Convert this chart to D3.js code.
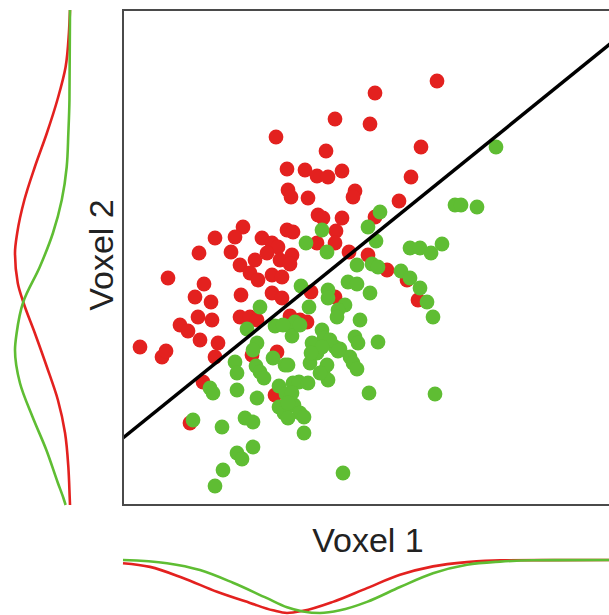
<!DOCTYPE html>
<html>
<head>
<meta charset="utf-8">
<script src="https://cdn.jsdelivr.net/npm/d3@7"></script>
<style>
  body { margin: 0; background: #fff; }
</style>
</head>
<body>
<div id="chart"></div>
<script>
// class A (red) points, [voxel1, voxel2]
let redPoints = [
  [62.8, 84.8], [50.4, 82.4], [42.4, 77.2], [49.4, 76.2], [30.6, 73.6],
  [40.6, 70.8], [59.6, 71.6], [32.8, 67.2], [36.4, 67.0], [38.8, 65.8],
  [41.0, 65.6], [43.8, 66.8], [57.6, 65.6], [33.0, 63.0], [33.6, 61.6],
  [37.0, 61.4], [46.4, 62.8], [46.0, 61.6], [55.2, 60.8], [39.0, 58.0],
  [40.0, 57.4], [43.8, 57.4], [50.4, 57.6], [24.0, 55.6], [18.4, 53.4],
  [22.4, 53.6], [27.8, 53.4], [29.8, 52.4], [31.0, 51.6], [32.8, 55.0],
  [34.0, 54.6], [15.2, 50.4], [21.6, 50.6], [23.4, 48.0], [26.4, 49.0],
  [25.4, 46.4], [27.0, 45.0], [29.8, 46.0], [31.4, 49.0], [31.8, 45.6],
  [9.0, 45.4], [16.2, 44.2], [14.4, 41.6], [17.6, 40.6], [23.6, 42.0],
  [29.8, 42.4], [31.8, 41.4], [15.0, 37.6], [17.8, 37.0], [11.4, 36.0],
  [13.0, 34.8], [23.4, 37.6], [25.4, 37.6], [15.4, 33.0], [19.0, 32.4],
  [3.4, 31.6], [7.8, 29.6], [8.6, 30.8], [18.4, 29.6], [16.0, 24.6],
  [13.4, 16.4], [30.4, 22.0], [30.8, 30.6], [25.8, 30.0], [33.8, 50.0],
  [33.4, 48.2], [28.8, 50.4], [45.2, 50.6], [49.0, 50.0], [42.6, 54.8],
  [38.8, 52.4], [42.4, 52.4], [52.8, 47.0], [56.8, 45.0], [59.0, 41.0],
  [37.6, 42.6], [42.4, 41.6], [36.8, 36.6], [35.4, 37.0], [33.4, 37.8],
  [26.8, 37.0]
];

// class B (green) points
let greenPoints = [
  [74.6, 71.6], [66.4, 60.0], [67.6, 60.0], [70.8, 59.6], [51.4, 58.6],
  [39.8, 55.0], [36.6, 52.4], [40.8, 50.6], [49.0, 55.6], [50.6, 52.8],
  [57.4, 51.4], [59.4, 51.4], [61.6, 50.4], [63.8, 52.2], [46.8, 48.0],
  [49.8, 48.2], [51.0, 47.6], [55.6, 46.8], [57.4, 45.4], [59.4, 43.4],
  [60.8, 40.6], [62.0, 37.6], [45.0, 44.6], [46.8, 44.2], [49.4, 42.4],
  [35.6, 43.8], [41.0, 43.0], [41.0, 41.4], [44.4, 40.0], [43.0, 39.0],
  [42.8, 37.6], [37.2, 39.6], [34.4, 36.6], [33.4, 35.8], [47.4, 37.0],
  [39.8, 35.0], [40.2, 33.4], [37.8, 32.4], [46.4, 33.6], [47.0, 32.4],
  [51.0, 32.6], [42.4, 31.6], [43.4, 31.2], [33.8, 33.8], [27.4, 39.6],
  [24.8, 35.2], [30.4, 35.8], [32.0, 36.0], [35.4, 36.0], [41.4, 33.0],
  [45.4, 29.6], [46.0, 28.4], [46.8, 27.2], [49.2, 22.4], [62.4, 22.2],
  [44.0, 6.4], [17.4, 23.4], [18.0, 22.4], [14.0, 17.0], [19.8, 15.6],
  [22.8, 23.0], [22.4, 28.6], [22.8, 26.4], [26.8, 21.4], [24.4, 17.4],
  [26.0, 16.6], [26.0, 11.6], [22.8, 10.4], [23.8, 9.2], [20.0, 7.0],
  [18.4, 3.8], [36.2, 14.4], [31.2, 23.8], [32.6, 22.2], [31.2, 19.6],
  [32.2, 18.4], [34.2, 20.0], [35.4, 18.4], [36.2, 17.6], [33.0, 17.4],
  [26.8, 32.4], [26.0, 31.0], [30.0, 29.4], [32.4, 28.0], [26.6, 27.8],
  [27.4, 26.6], [28.2, 25.4], [34.0, 24.4], [35.2, 24.6], [37.0, 24.4],
  [33.8, 22.4], [33.0, 20.4], [37.4, 28.4], [38.8, 30.4], [39.8, 31.6],
  [40.0, 26.6], [41.0, 25.0], [40.8, 28.0], [39.4, 26.4], [37.6, 30.4],
  [33.0, 28.0], [43.0, 30.8]
];

// decision boundary (voxel1 -> voxel2)
let boundaryX = [0, 100];
let boundaryY = [13.4, 94.3];

// marginal densities (relative height)
let margYGrid = [99, 94.4, 87.6, 81, 74.4, 67.6, 61, 54.4, 50.4, 44.4, 40.6, 34.4, 27.6, 21, 14.4, 7.6, 1.4, 0];
let margYRed = [0, 0.02, 0.08, 0.23, 0.42, 0.64, 0.83, 0.96, 1.0, 0.95, 0.85, 0.64, 0.42, 0.22, 0.09, 0.03, 0.005, 0.0];
let margYGreenGrid = [99, 81, 74.4, 67.6, 61, 54.4, 47.6, 40.6, 34.4, 31, 24.4, 17.6, 11, 4.4, 1.4, 0];
let margYGreen = [0, 0.01, 0.03, 0.06, 0.15, 0.31, 0.55, 0.85, 0.97, 1.0, 0.91, 0.68, 0.43, 0.22, 0.12, 0.08];

let margXRedGrid = [0, 5.4, 12, 18.8, 25.4, 30, 32.8, 36, 42, 48.8, 55.4, 62, 68.8, 75.4, 97.2];
let margXRed = [0.06, 0.13, 0.34, 0.6, 0.81, 0.95, 1.0, 0.96, 0.79, 0.53, 0.28, 0.12, 0.04, 0.005, 0];
let margXGreenGrid = [0, 8.8, 15.4, 22, 28.8, 32.8, 36, 39.4, 43.4, 48.8, 55.4, 62, 68.8, 75.4, 82, 97.2];
let margXGreen = [0, 0.06, 0.19, 0.43, 0.72, 0.89, 0.97, 1.0, 0.95, 0.79, 0.51, 0.25, 0.09, 0.03, 0.005, 0];

let red = "#e3211f";
let green = "#5fbd33";

var svg = d3
  .select("#chart")
  .append("svg")
  .attr("width", 609)
  .attr("height", 615);

var x = d3.scaleLinear().domain([0, 100]).range([123, 623]);
var y = d3.scaleLinear().domain([0, 99]).range([505, 10]);
// marginal curve heights
var hLeft = d3.scaleLinear().domain([0, 1]).range([70, 15]);
var hBottom = d3.scaleLinear().domain([0, 1]).range([560, 613]);

svg
  .append("clipPath")
  .attr("id", "plotclip")
  .append("rect")
  .attr("x", x(0))
  .attr("y", y(99))
  .attr("width", x(100) - x(0))
  .attr("height", y(0) - y(99));

var plot = svg.append("g").attr("clip-path", "url(#plotclip)");

plot
  .selectAll(".red")
  .data(redPoints)
  .join("circle")
  .attr("class", "red")
  .attr("cx", (d) => x(d[0]))
  .attr("cy", (d) => y(d[1]))
  .attr("r", 7.4)
  .style("fill", red);

plot
  .selectAll(".green")
  .data(greenPoints)
  .join("circle")
  .attr("class", "green")
  .attr("cx", (d) => x(d[0]))
  .attr("cy", (d) => y(d[1]))
  .attr("r", 7.4)
  .style("fill", green);

plot
  .append("path")
  .datum(boundaryX.map((v, i) => [v, boundaryY[i]]))
  .attr("d", d3.line().x((d) => x(d[0])).y((d) => y(d[1])))
  .style("stroke", "#000")
  .style("stroke-width", 3.5)
  .style("fill", "none");

// frame
svg
  .append("rect")
  .attr("x", x(0))
  .attr("y", y(99))
  .attr("width", x(100) - x(0))
  .attr("height", y(0) - y(99))
  .style("fill", "none")
  .style("stroke", "#4a4a4a")
  .style("stroke-width", 2);

// left marginal
var leftLine = d3
  .line()
  .x((d) => hLeft(d[1]))
  .y((d) => y(d[0]))
  .curve(d3.curveMonotoneY);

svg
  .append("path")
  .datum(margYGrid.map((v, i) => [v, margYRed[i]]))
  .attr("d", leftLine)
  .style("stroke", red)
  .style("stroke-width", 2.6)
  .style("fill", "none");

svg
  .append("path")
  .datum(margYGreenGrid.map((v, i) => [v, margYGreen[i]]))
  .attr("d", leftLine)
  .style("stroke", green)
  .style("stroke-width", 2.6)
  .style("fill", "none");

// bottom marginal
var bottomLine = d3
  .line()
  .x((d) => x(d[0]))
  .y((d) => hBottom(d[1]))
  .curve(d3.curveMonotoneX);

svg
  .append("path")
  .datum(margXRedGrid.map((v, i) => [v, margXRed[i]]))
  .attr("d", bottomLine)
  .style("stroke", red)
  .style("stroke-width", 2.6)
  .style("fill", "none");

svg
  .append("path")
  .datum(margXGreenGrid.map((v, i) => [v, margXGreen[i]]))
  .attr("d", bottomLine)
  .style("stroke", green)
  .style("stroke-width", 2.6)
  .style("fill", "none");

// axis titles
svg
  .append("text")
  .attr("x", 368)
  .attr("y", 552)
  .attr("text-anchor", "middle")
  .text("Voxel 1")
  .style("font-family", "'Liberation Sans', Arial, sans-serif")
  .style("font-size", "34px")
  .style("fill", "#222");

svg
  .append("text")
  .attr("transform", "translate(113,255) rotate(-90)")
  .attr("text-anchor", "middle")
  .text("Voxel 2")
  .style("font-family", "'Liberation Sans', Arial, sans-serif")
  .style("font-size", "34px")
  .style("fill", "#222");
</script>
</body>
</html>
